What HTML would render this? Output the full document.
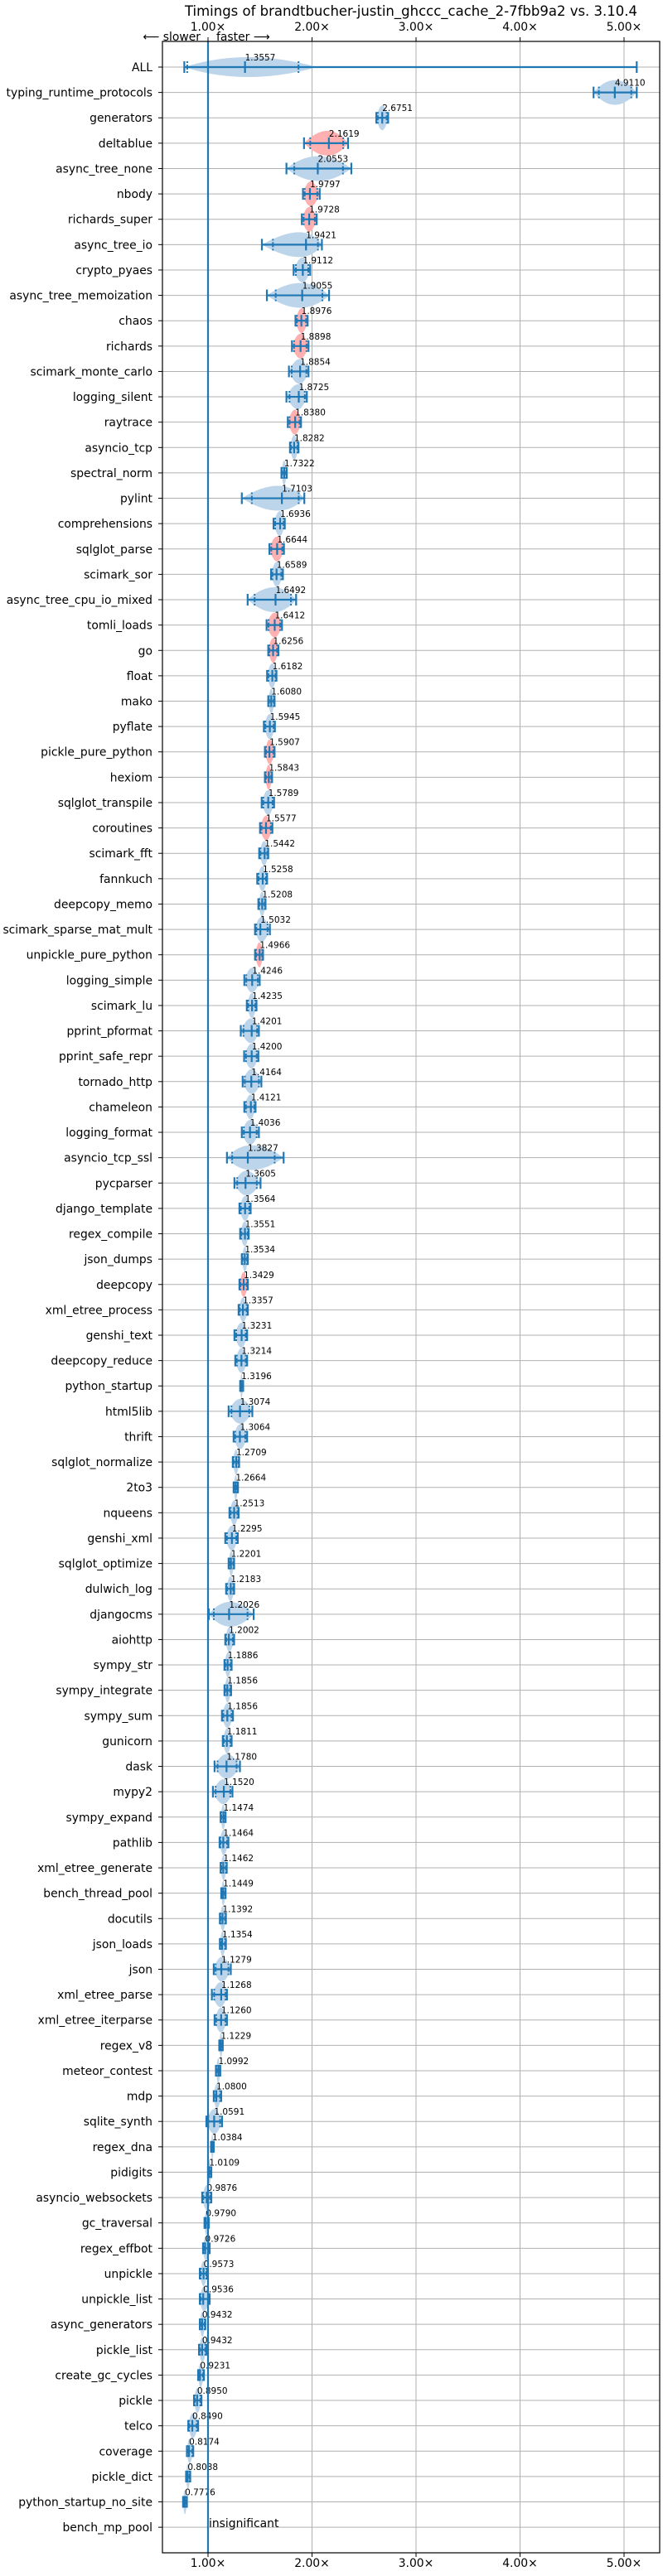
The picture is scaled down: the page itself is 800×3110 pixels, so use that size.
<!DOCTYPE html>
<html><head><meta charset="utf-8">
<style>
html,body{margin:0;padding:0;background:#fff;}
svg{display:block;font-family:"DejaVu Sans","Liberation Sans",sans-serif;}
</style></head>
<body>
<svg id="chart" width="800" height="3110" viewBox="0 0 800 3110" xmlns="http://www.w3.org/2000/svg"></svg>
<script>
const benchNames = ["ALL","typing_runtime_protocols","generators","deltablue","async_tree_none","nbody","richards_super","async_tree_io","crypto_pyaes","async_tree_memoization","chaos","richards","scimark_monte_carlo","logging_silent","raytrace","asyncio_tcp","spectral_norm","pylint","comprehensions","sqlglot_parse","scimark_sor","async_tree_cpu_io_mixed","tomli_loads","go","float","mako","pyflate","pickle_pure_python","hexiom","sqlglot_transpile","coroutines","scimark_fft","fannkuch","deepcopy_memo","scimark_sparse_mat_mult","unpickle_pure_python","logging_simple","scimark_lu","pprint_pformat","pprint_safe_repr","tornado_http","chameleon","logging_format","asyncio_tcp_ssl","pycparser","django_template","regex_compile","json_dumps","deepcopy","xml_etree_process","genshi_text","deepcopy_reduce","python_startup","html5lib","thrift","sqlglot_normalize","2to3","nqueens","genshi_xml","sqlglot_optimize","dulwich_log","djangocms","aiohttp","sympy_str","sympy_integrate","sympy_sum","gunicorn","dask","mypy2","sympy_expand","pathlib","xml_etree_generate","bench_thread_pool","docutils","json_loads","json","xml_etree_parse","xml_etree_iterparse","regex_v8","meteor_contest","mdp","sqlite_synth","regex_dna","pidigits","asyncio_websockets","gc_traversal","regex_effbot","unpickle","unpickle_list","async_generators","pickle_list","create_gc_cycles","pickle","telco","coverage","pickle_dict","python_startup_no_site","bench_mp_pool"];
const medians = [1.3557,4.9110,2.6751,2.1619,2.0553,1.9797,1.9728,1.9421,1.9112,1.9055,1.8976,1.8898,1.8854,1.8725,1.8380,1.8282,1.7322,1.7103,1.6936,1.6644,1.6589,1.6492,1.6412,1.6256,1.6182,1.6080,1.5945,1.5907,1.5843,1.5789,1.5577,1.5442,1.5258,1.5208,1.5032,1.4966,1.4246,1.4235,1.4201,1.4200,1.4164,1.4121,1.4036,1.3827,1.3605,1.3564,1.3551,1.3534,1.3429,1.3357,1.3231,1.3214,1.3196,1.3074,1.3064,1.2709,1.2664,1.2513,1.2295,1.2201,1.2183,1.2026,1.2002,1.1886,1.1856,1.1856,1.1811,1.1780,1.1520,1.1474,1.1464,1.1462,1.1449,1.1392,1.1354,1.1279,1.1268,1.1260,1.1229,1.0992,1.0800,1.0591,1.0384,1.0109,0.9876,0.9790,0.9726,0.9573,0.9536,0.9432,0.9432,0.9231,0.8950,0.8490,0.8174,0.8038,0.7776,1.0000];
const mins = [0.772,4.707,2.618,1.923,1.754,1.913,1.902,1.518,1.823,1.566,1.841,1.807,1.778,1.754,1.767,1.788,1.706,1.325,1.630,1.590,1.606,1.381,1.563,1.579,1.568,1.579,1.537,1.547,1.547,1.516,1.500,1.492,1.473,1.484,1.452,1.452,1.349,1.373,1.315,1.347,1.333,1.349,1.325,1.182,1.254,1.302,1.309,1.325,1.302,1.294,1.254,1.262,1.309,1.198,1.246,1.238,1.246,1.206,1.166,1.198,1.174,1.007,1.166,1.158,1.158,1.134,1.142,1.063,1.047,1.121,1.111,1.121,1.127,1.114,1.114,1.055,1.037,1.063,1.108,1.076,1.055,0.984,1.029,1.000,0.944,0.966,0.952,0.921,0.921,0.921,0.913,0.905,0.865,0.810,0.797,0.789,0.760,0.995];
const maxs = [5.122,5.122,2.732,2.346,2.378,2.074,2.045,2.095,1.982,2.164,1.958,1.966,1.966,1.950,1.894,1.870,1.757,1.926,1.738,1.730,1.720,1.847,1.711,1.677,1.658,1.640,1.643,1.640,1.616,1.635,1.619,1.579,1.568,1.553,1.595,1.529,1.497,1.466,1.489,1.484,1.513,1.457,1.489,1.727,1.505,1.410,1.391,1.383,1.383,1.383,1.376,1.376,1.338,1.426,1.376,1.299,1.288,1.294,1.286,1.251,1.251,1.439,1.251,1.227,1.222,1.240,1.227,1.307,1.235,1.169,1.196,1.180,1.169,1.172,1.172,1.219,1.182,1.182,1.142,1.118,1.127,1.135,1.055,1.032,1.032,1.008,1.016,0.992,1.016,0.974,0.984,0.961,0.937,0.905,0.858,0.829,0.797,1.005];
const violinMaxs = [2.05].concat(maxs.slice(1));
const q1s = [0.80];
const q3s = [1.87];
const slowerFlags = [0,0,0,1,0,1,1,0,0,0,1,1,0,0,1,0,0,0,0,1,0,0,1,1,0,0,0,1,1,0,1,0,0,0,0,1,0,0,0,0,0,0,0,0,0,0,0,0,1,0,0,0,0,0,0,0,0,0,0,0,0,0,0,0,0,0,0,0,0,0,0,0,0,0,0,0,0,0,0,0,0,0,0,0,0,0,0,0,0,0,0,0,0,0,0,0,0,0];
const insignificantFlags = benchNames.map(n => n === "bench_mp_pool");
const xTickValues = [1,2,3,4,5];
const xTickLabels = ["1.00×","2.00×","3.00×","4.00×","5.00×"];

const NS = "http://www.w3.org/2000/svg";
const svg = document.getElementById("chart");
const L = 196, R = 796, T = 50, B = 3082;
const x = v => 251 + (v - 1) * 125.5;
const y = i => 81 + i * 30.62;
const BLUE = "#1f77b4";
function mk(tag, attrs, parent) {
  const e = document.createElementNS(NS, tag);
  for (const k in attrs) e.setAttribute(k, attrs[k]);
  (parent || svg).appendChild(e);
  return e;
}

let t = mk("text", {x: 496, y: 19, "text-anchor": "middle", "font-size": "16.5", fill: "#000"});


t.textContent = "Timings of brandtbucher-justin_ghccc_cache_2-7fbb9a2 vs. 3.10.4";

const grid = mk("g", {});


xTickValues.forEach(v => {
  const gl = mk("line", {x1: x(v), x2: x(v), y1: T, y2: B, stroke: "#b0b0b0", "stroke-width": 1}, grid);
  
  
});
benchNames.forEach((n, i) => {
  const gl = mk("line", {x1: L, x2: R, y1: y(i), y2: y(i), stroke: "#b0b0b0", "stroke-width": 1}, grid);
  
  
});

xTickValues.forEach((v, k) => {
  [[T, -5, 37], [B, 5, 3099]].forEach(([yy, d, ty]) => {
    const tk = mk("line", {x1: x(v), x2: x(v), y1: yy, y2: yy + d, stroke: "#000", "stroke-width": 1});
    
    
    const tl = mk("text", {x: x(v), y: ty, "text-anchor": "middle", "font-size": "13.9", fill: "#000"});
    
    
    tl.textContent = xTickLabels[k];
  });
});

let s1 = mk("text", {x: 242, y: 49, "text-anchor": "end", "font-size": "13.9", fill: "#000"});


s1.textContent = "⟵ slower";
let s2 = mk("text", {x: 261, y: 49, "text-anchor": "start", "font-size": "13.9", fill: "#000"});


s2.textContent = "faster ⟶";

benchNames.forEach((n, i) => {
  const tk = mk("line", {x1: L - 5, x2: L, y1: y(i), y2: y(i), stroke: "#000", "stroke-width": 1});
  
  
  const tl = mk("text", {x: 184, y: y(i) + 5, "text-anchor": "end", "font-size": "13.9", fill: "#000"});
  
  
  tl.textContent = n;
});

benchNames.forEach((n, i) => {
  const g = mk("g", {});
  
  
  const cy = y(i), a = x(mins[i]), b = x(maxs[i]), m = x(medians[i]), vb = x(violinMaxs[i]);
  const h = insignificantFlags[i] ? 8 : (i === 0 ? 12 : 15);
  const fill = slowerFlags[i] ? "#ffb0b0" : "#bcd5ea";
  const p = mk("path", {d: `M${a},${cy} Q${m},${cy - 2 * h} ${vb},${cy} Q${m},${cy + 2 * h} ${a},${cy} Z`, fill: fill, stroke: "none"}, g);
  
  
  if (insignificantFlags[i]) {
    const it = mk("text", {x: 252, y: cy, "font-size": "13.9", fill: "#000"});
    
    
    it.textContent = "insignificant";
    return;
  }
  const wl = mk("line", {x1: a, x2: b, y1: cy, y2: cy, stroke: BLUE, "stroke-width": 2.2}, g);
  
  
  [a, b, m].forEach(xx => {
    const c = mk("line", {x1: xx, x2: xx, y1: cy - 7, y2: cy + 7, stroke: BLUE, "stroke-width": 2.2}, g);
    
    
  });
  const q1 = q1s[i] !== undefined ? x(q1s[i]) : m - (m - a) * 0.75;
  const q3 = q3s[i] !== undefined ? x(q3s[i]) : m + (b - m) * 0.75;
  [q1, q3].forEach(xx => {
    const q = mk("line", {x1: xx, x2: xx, y1: cy - 7, y2: cy + 7, stroke: BLUE, "stroke-width": 2, "stroke-dasharray": "2,2"}, g);
    
    
  });
  const an = mk("text", {x: m, y: cy - 8, "font-size": "10.5", fill: "#000"});
  
  
  an.textContent = medians[i].toFixed(4);
});

const bl = mk("line", {x1: x(1), x2: x(1), y1: T, y2: B, stroke: BLUE, "stroke-width": 2.2});



const fr = mk("rect", {x: L, y: T, width: R - L, height: B - T, fill: "none", stroke: "#000", "stroke-width": 1.2});


</script>
</body></html>
